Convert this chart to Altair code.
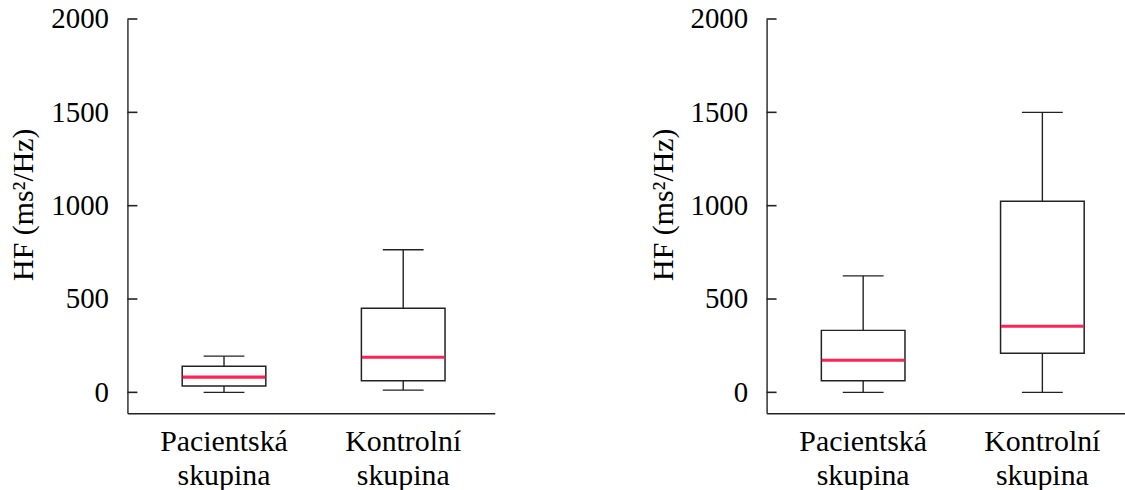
import altair as alt
import pandas as pd

# Groups shown on the x axis (split onto two lines at the space)
groups = ["Pacientská skupina", "Kontrolní skupina"]

# Box statistics, HF (ms^2/Hz) – first measurement
a_lower = [0, 12]
a_q1 = [34, 62]
a_median = [82, 188]
a_q3 = [140, 450]
a_upper = [194, 764]

# Box statistics, HF (ms^2/Hz) – second measurement
b_lower = [0, 0]
b_q1 = [62, 210]
b_median = [172, 354]
b_q3 = [332, 1024]
b_upper = [624, 1500]

y_ticks = [0, 500, 1000, 1500, 2000]
y_domain = [-112, 2000]

INK = "#222222"
MEDIAN = "#FF2255"
FONT = "Liberation Serif"


def panel(lower, q1, median, q3, upper, width, pad_inner, pad_outer, align):
    df = pd.DataFrame({
        "group": groups, "lower": lower, "q1": q1,
        "median": median, "q3": q3, "upper": upper,
    })
    x = alt.X(
        "group:N", sort=groups, title=None,
        scale=alt.Scale(paddingInner=pad_inner, paddingOuter=pad_outer, align=align),
        axis=alt.Axis(
            labelAngle=0, ticks=False, domainColor=INK, domainWidth=1.4,
            labelExpr="split(datum.label, ' ')", labelFont=FONT, labelFontSize=30,
            labelLineHeight=35, labelPadding=13, labelColor="#000000",
        ),
    )
    yscale = alt.Scale(domain=y_domain, nice=False, zero=False)
    yaxis = alt.Axis(
        values=y_ticks, format="d", ticks=False, grid=False, domainColor=INK,
        domainWidth=1.4, labelFont=FONT, labelFontSize=29, labelPadding=19,
        labelColor="#000000",
        title="HF (ms²/Hz)", titleFont=FONT, titleFontSize=30, titleFontWeight="normal",
        titlePadding=12, titleColor="#000000", titleY=186,
    )
    base = alt.Chart(df).encode(x=x)

    whisker = base.mark_rule(color=INK, strokeWidth=1.4).encode(
        y=alt.Y("lower:Q", scale=yscale, axis=yaxis), y2="upper:Q"
    )
    box = base.mark_bar(size=84, fill="white", stroke=INK, strokeWidth=1.5,
                        opacity=1).encode(
        y=alt.Y("q1:Q", scale=yscale), y2="q3:Q"
    )
    med = base.mark_tick(size=83, thickness=3.2, color=MEDIAN, opacity=1).encode(
        y=alt.Y("median:Q", scale=yscale)
    )
    cap_lo = base.mark_tick(size=41, thickness=1.4, color=INK, opacity=1).encode(
        y=alt.Y("lower:Q", scale=yscale)
    )
    cap_hi = base.mark_tick(size=41, thickness=1.4, color=INK, opacity=1).encode(
        y=alt.Y("upper:Q", scale=yscale)
    )
    # short y ticks pointing into the plot
    tick_df = pd.DataFrame({"tick": y_ticks})
    ticks = alt.Chart(tick_df).mark_rule(color=INK, strokeWidth=1.6).encode(
        y=alt.Y("tick:Q", scale=yscale),
        x=alt.value(0),
        x2=alt.value(10),
    )
    return alt.layer(whisker, box, med, cap_lo, cap_hi, ticks).properties(
        width=width, height=396
    )


left = panel(a_lower, a_q1, a_median, a_q3, a_upper, 369, 0.0778, 0.0639, 0.609)
right = panel(b_lower, b_q1, b_median, b_q3, b_upper, 360, 0.0778, 0.0389, 1.0)

chart = alt.hconcat(left, right, spacing=154).properties(
    padding={"left": 9, "top": 4, "right": 0, "bottom": 0}
).configure(background="white").configure_view(stroke=None)

chart.save("out.html", embed_options={"renderer": "svg", "actions": False})
